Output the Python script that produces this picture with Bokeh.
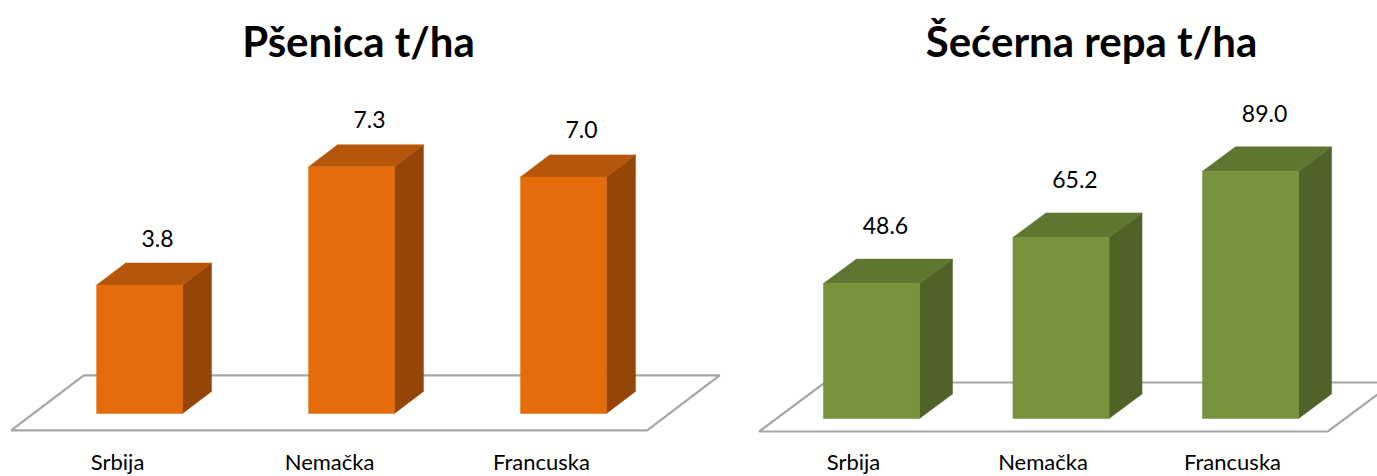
from bokeh.plotting import figure
from bokeh.layouts import row
from bokeh.models import ColumnDataSource, Range1d, Label
from bokeh.core.properties import value
from bokeh.embed import file_html
from bokeh.resources import INLINE

# ---- data ----
categories = ["Srbija", "Nemačka", "Francuska"]
psenica = [3.8, 7.3, 7.0]
secerna_repa = [48.6, 65.2, 89.0]
title_psenica = "Pšenica t/ha"
title_repa = "Šećerna repa t/ha"

H = 476
FONT = "Lato"


def make_chart(title, cats, vals, width, xr, yr, bar_w, depth_px, floor_depth,
               colors, val_off, cat_off, title_x):
    p = figure(width=width, height=H, x_range=Range1d(*xr), y_range=Range1d(*yr),
               output_backend="svg", toolbar_location=None, min_border=0,
               x_axis_type=None, y_axis_type=None)
    p.grid.visible = False
    p.outline_line_color = None
    p.background_fill_color = "white"
    p.border_fill_color = "white"

    sx = width / (xr[1] - xr[0])
    sy = H / (yr[1] - yr[0])
    ddx = depth_px[0] / sx
    ddy = depth_px[1] / sy
    n = len(cats)
    idx = list(range(n))

    # floor (parallelogram in depth)
    f0, f1 = floor_depth
    x0, x1 = -0.5, n - 0.5
    p.patch([x0 + f0 * ddx, x1 + f0 * ddx, x1 + f1 * ddx, x0 + f1 * ddx],
            [f0 * ddy, f0 * ddy, f1 * ddy, f1 * ddy],
            fill_color="white", line_color="#A6A6A6", line_width=2.2)

    front_c, top_c, side_c = colors
    side_xs, side_ys, top_xs, top_ys = [], [], [], []
    for i, v in zip(idx, vals):
        l, r = i - bar_w / 2, i + bar_w / 2
        side_xs.append([r, r + ddx, r + ddx, r])
        side_ys.append([0, ddy, v + ddy, v])
        top_xs.append([l, r, r + ddx, l + ddx])
        top_ys.append([v, v, v + ddy, v + ddy])
    p.patches(side_xs, side_ys, fill_color=side_c, line_color=side_c, line_width=0.5)
    p.patches(top_xs, top_ys, fill_color=top_c, line_color=top_c, line_width=0.5)
    src = ColumnDataSource(dict(x=idx, top=vals,
                                lbl=[f"{v:.1f}" for v in vals],
                                cat=cats, base=[0] * n))
    p.vbar(x="x", top="top", bottom=0, width=bar_w, source=src,
           fill_color=front_c, line_color=front_c, line_width=0.5)

    # value labels
    p.text(x="x", y="top", text="lbl", source=src, x_offset=val_off[0], y_offset=val_off[1],
           text_font=value(FONT), text_font_size="23px", text_align="center",
           text_baseline="middle", text_color="#000000")
    # category labels
    p.text(x="x", y="base", text="cat", source=src, x_offset=cat_off[0], y_offset=cat_off[1],
           text_font=value(FONT), text_font_size="22px", text_align="center",
           text_baseline="middle", text_color="#000000")

    p.add_layout(Label(x=title_x, y=H - 40, x_units="screen", y_units="screen",
                       text=title, text_align="center", text_baseline="middle",
                       text_font=FONT, text_font_size="42px", text_font_style="bold",
                       text_color="#000000"))
    return p


p1 = make_chart(title_psenica, categories, psenica, 740,
                (-0.656, 2.835), (-1.864, 12.219), 0.405, (29, 22), (-0.77, 1.73),
                ("#E46C0A", "#B5560A", "#954507"), (18, -47), (-22, 48), 358)
p2 = make_chart(title_repa, categories, secerna_repa, 637,
                (-0.691, 2.670), (-20.886, 150.52), 0.507, (33, 24.5), (-0.53, 1.47),
                ("#77933C", "#5F7631", "#4F6228"), (14, -58), (-18, 43), 351)

layout = row(p1, p2)
open("out.html", "w").write(file_html(layout, INLINE))
